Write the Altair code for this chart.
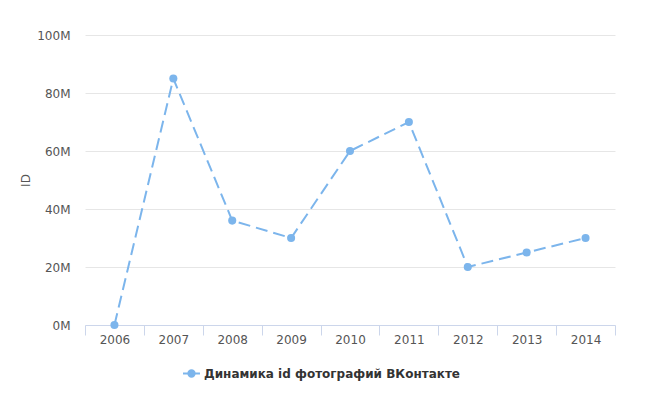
import altair as alt
import pandas as pd

years = ["2006", "2007", "2008", "2009", "2010", "2011", "2012", "2013", "2014"]
values = [0, 85e6, 36e6, 30e6, 60e6, 70e6, 20e6, 25e6, 30e6]
series = "Динамика id фотографий ВКонтакте"

df = pd.DataFrame({"year": years, "value": values, "series": [series] * len(years)})

FONT = "DejaVu Sans"
COLOR = "#7cb5ec"

x = alt.X("year:O", title=None,
          scale=alt.Scale(paddingInner=0, paddingOuter=0),
          axis=alt.Axis(labelAngle=0, tickBand="extent", domainColor="#ccd6eb",
                        tickColor="#ccd6eb", tickSize=10, labelPadding=-1,
                        labelColor="#555", labelFontSize=12, labelFont=FONT, grid=False))
y = alt.Y("value:Q", title="ID",
          scale=alt.Scale(domain=[0, 100e6]),
          axis=alt.Axis(values=[0, 20e6, 40e6, 60e6, 80e6, 100e6],
                        labelExpr="datum.value/1000000 + 'M'",
                        domain=False, ticks=False, gridColor="#e6e6e6",
                        labelPadding=15, labelColor="#555", labelFontSize=12,
                        labelFont=FONT, titleFont=FONT, titleFontSize=12,
                        titleFontWeight="normal", titleColor="#555", titlePadding=4))

color = alt.Color("series:N", scale=alt.Scale(range=[COLOR]),
                  legend=alt.Legend(title=None, orient="none", legendX=98, legendY=330,
                                    symbolType="M-1.2,0 L1.2,0 M-0.45,0 A0.45,0.45 0 1,1 0.45,0 A0.45,0.45 0 1,1 -0.45,0",
                                    symbolSize=200, symbolStrokeWidth=2,
                                    symbolStrokeColor=COLOR, symbolFillColor=COLOR,
                                    labelFont=FONT, labelFontSize=12, labelFontWeight="bold",
                                    labelColor="#333", labelLimit=400))

line = alt.Chart(df).mark_line(strokeDash=[12, 6], strokeWidth=2).encode(x=x, y=y, color=color)
pts = alt.Chart(df).mark_point(filled=True, size=65, opacity=1).encode(x=x, y=y, color=color)

chart = (line + pts).properties(
    width=530, height=290,
    background="white",
    autosize=alt.AutoSizeParams(type="none"),
    padding={"left": 77, "top": 27, "right": 47, "bottom": 72},
).configure_view(strokeWidth=0).configure_axisX(grid=False)

chart.save("out.html", embed_options={"renderer": "svg", "actions": False})
